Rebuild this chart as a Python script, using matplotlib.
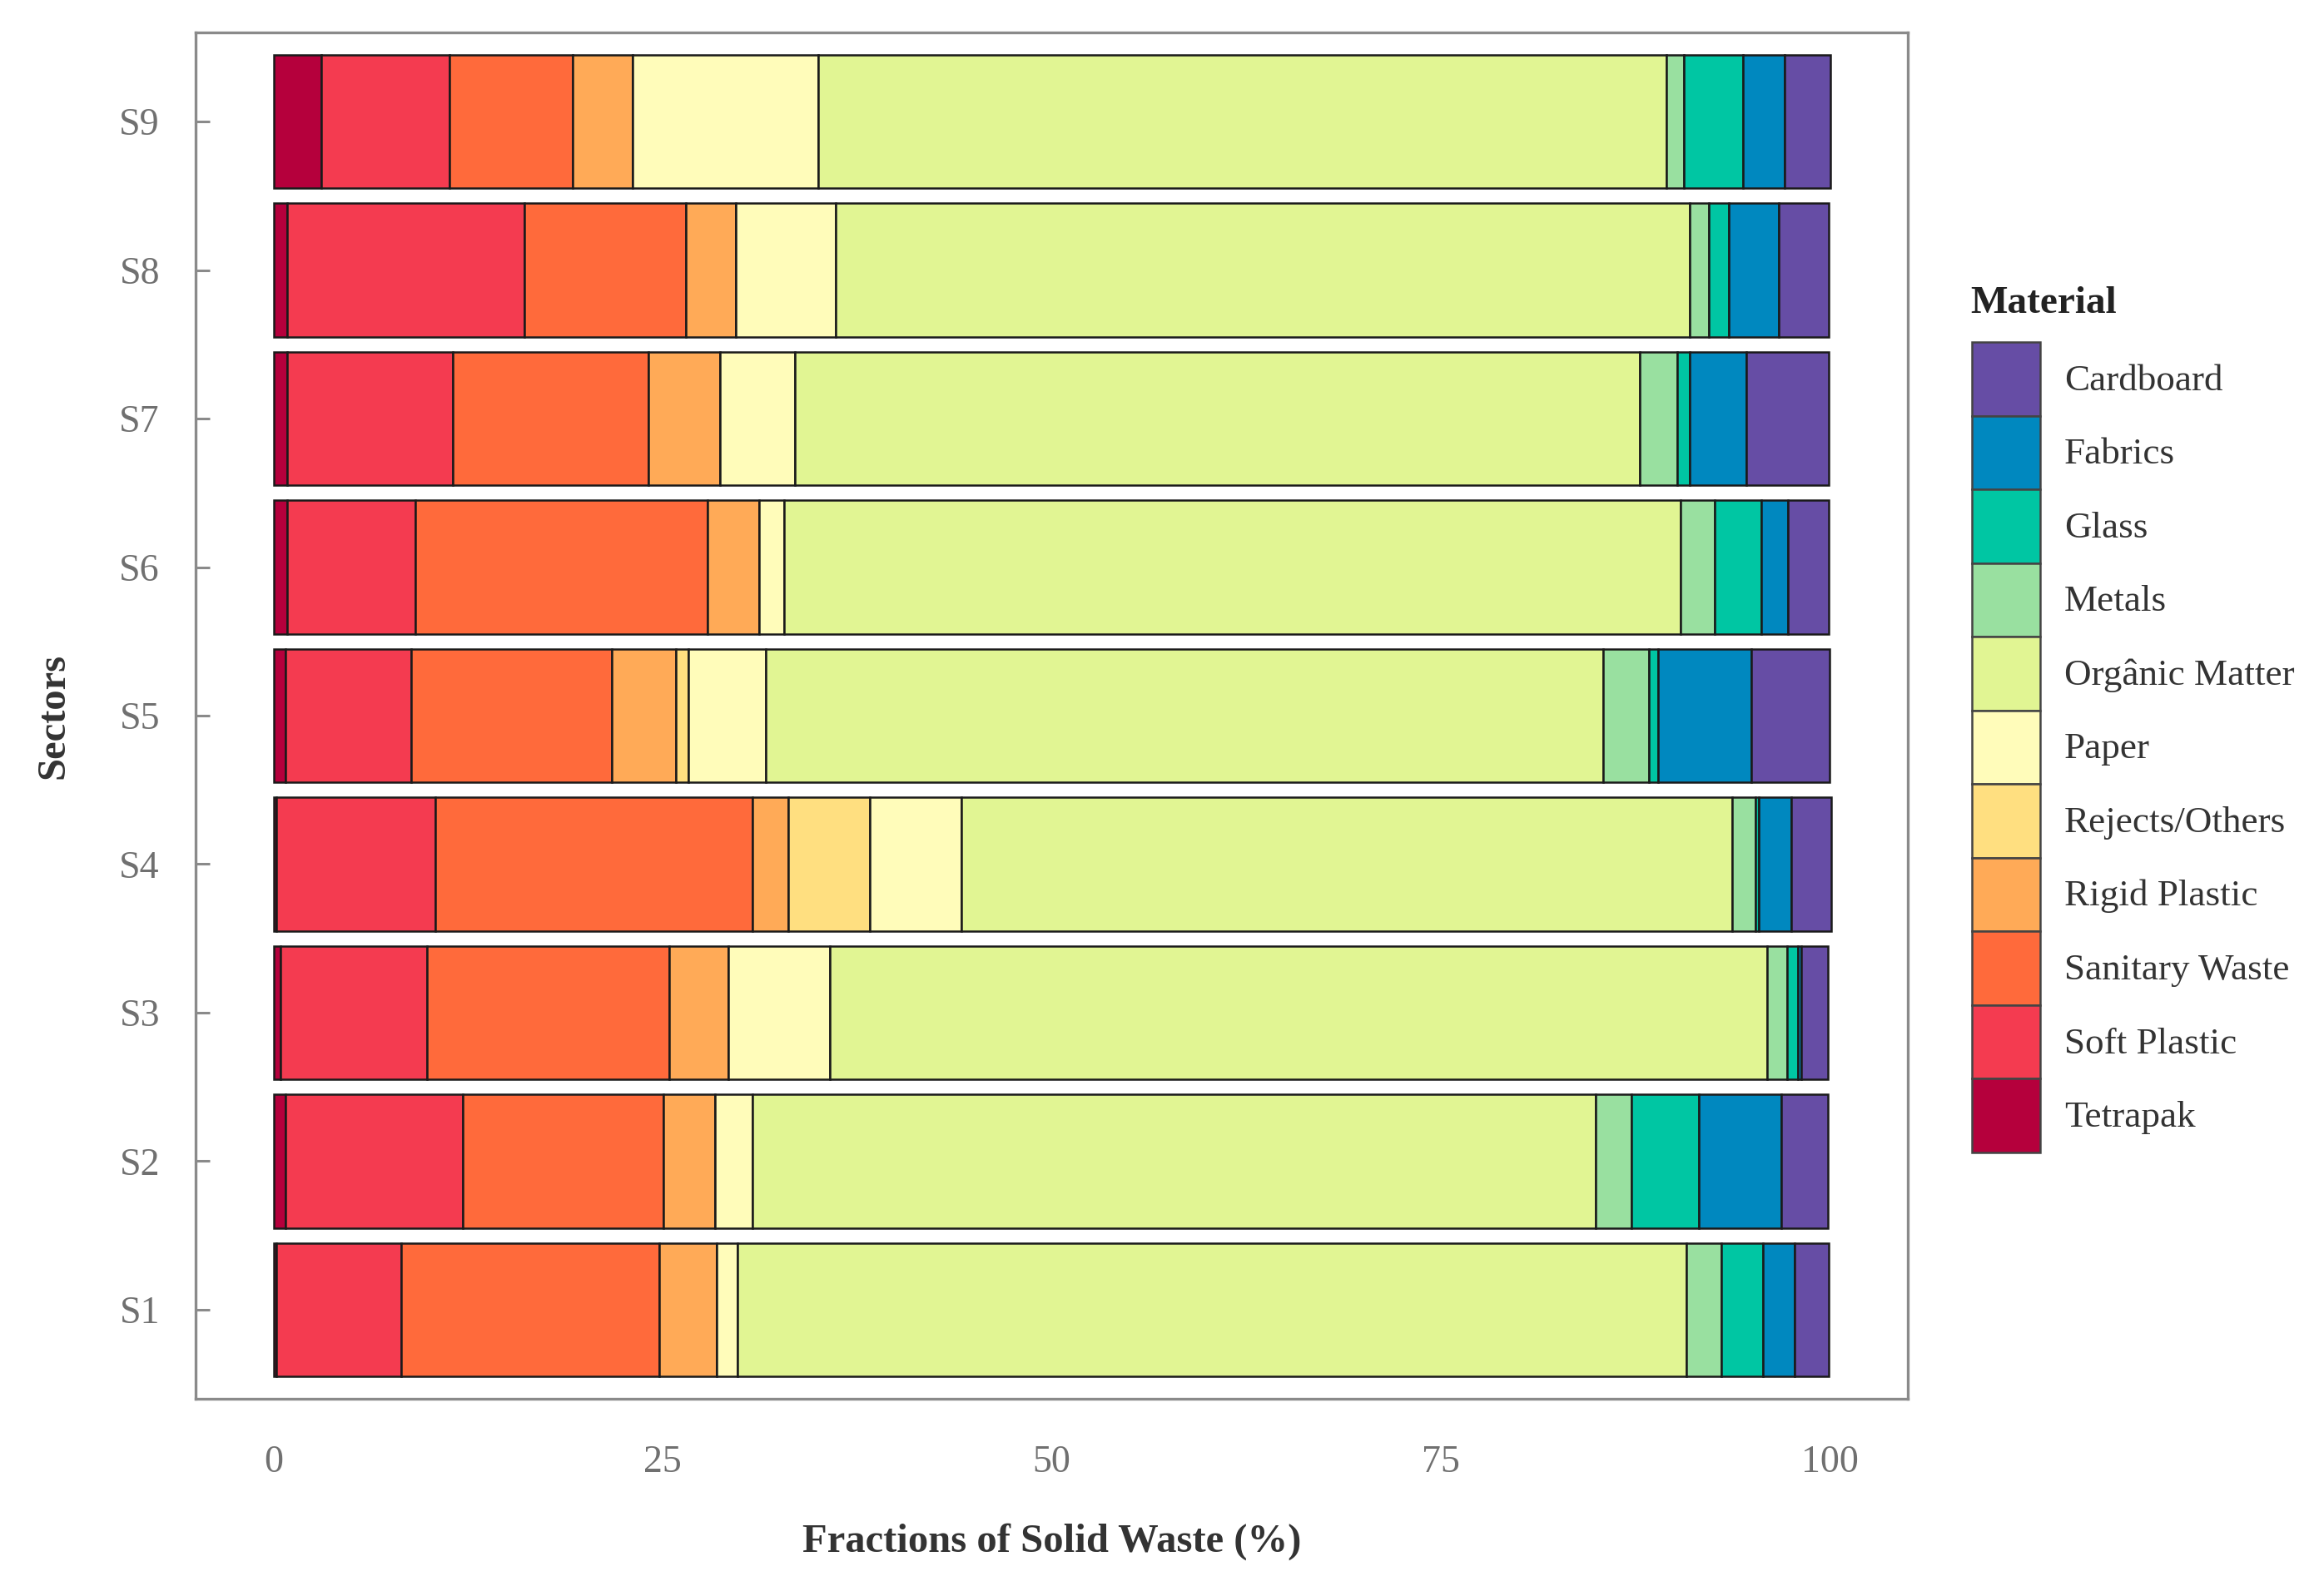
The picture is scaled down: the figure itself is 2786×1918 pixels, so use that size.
import numpy as np
import matplotlib
matplotlib.use("Agg")
import matplotlib.pyplot as plt
from matplotlib.patches import Patch

# ============================================================
# Dados (percentual de cada material por setor, S1..S9)
# ============================================================

setores = ["S1", "S2", "S3", "S4", "S5", "S6", "S7", "S8", "S9"]

tetrapak = [0.2, 0.75, 0.45, 0.2, 0.75, 0.9, 0.9, 0.9, 3.1]
soft_plastic = [8.0, 11.4, 9.4, 10.2, 8.1, 8.2, 10.6, 15.2, 8.2]
sanitary_waste = [16.6, 12.9, 15.6, 20.4, 12.9, 18.8, 12.6, 10.4, 7.9]
rigid_plastic = [3.7, 3.3, 3.8, 2.3, 4.1, 3.3, 4.6, 3.2, 3.9]
rejects_others = [0.0, 0.0, 0.0, 5.2, 0.8, 0.0, 0.0, 0.0, 0.0]
paper = [1.3, 2.4, 6.5, 5.9, 5.0, 1.6, 4.8, 6.4, 11.9]
organic_matter = [61.0, 54.2, 60.2, 49.5, 53.8, 57.6, 54.3, 54.9, 54.5]
metals = [2.2, 2.3, 1.3, 1.5, 2.9, 2.2, 2.4, 1.2, 1.1]
glass = [2.7, 4.3, 0.7, 0.2, 0.6, 3.0, 0.8, 1.3, 3.8]
fabrics = [2.0, 5.3, 0.2, 2.1, 6.0, 1.7, 3.6, 3.2, 2.7]
cardboard = [2.2, 3.0, 1.7, 2.6, 5.0, 2.6, 5.3, 3.2, 2.9]

materiais = [
    ("Tetrapak", tetrapak, "#B5003C"),
    ("Soft Plastic", soft_plastic, "#F43B50"),
    ("Sanitary Waste", sanitary_waste, "#FF6A3B"),
    ("Rigid Plastic", rigid_plastic, "#FFAA57"),
    ("Rejects/Others", rejects_others, "#FFDF80"),
    ("Paper", paper, "#FFFCBA"),
    ("Orgânic Matter", organic_matter, "#E1F593"),
    ("Metals", metals, "#99E0A0"),
    ("Glass", glass, "#00C6A3"),
    ("Fabrics", fabrics, "#0088BF"),
    ("Cardboard", cardboard, "#664DA5"),
]

ticks_x = [0, 25, 50, 75, 100]

# ============================================================
# Gráfico
# ============================================================

plt.rcParams["font.family"] = ["Liberation Serif", "DejaVu Serif"]

fig = plt.figure(figsize=(27.86, 19.18), dpi=100)
ax = fig.add_axes([0.08435, 0.12357, 0.8227 - 0.08435, 0.97967 - 0.12357])

y = np.arange(1, len(setores) + 1)
esquerda = np.zeros(len(setores))

for nome, valores, cor in materiais:
    valores = np.array(valores)
    ax.barh(
        y,
        valores,
        left=esquerda,
        height=0.9,
        color=cor,
        edgecolor="#1a1a1a",
        linewidth=1.8,
    )
    esquerda += valores

ax.set_xlim(-5, 105)
ax.set_ylim(0.4, 9.6)

ax.set_xticks(ticks_x)
ax.set_xticklabels([str(t) for t in ticks_x])
ax.set_yticks(y)
ax.set_yticklabels(setores)

ax.tick_params(axis="x", length=0, pad=40, labelsize=33, labelcolor="#707070")
ax.tick_params(axis="y", direction="in", length=12, width=2.2, color="#8a8a8a",
               pad=31, labelsize=33, labelcolor="#707070")

for lado in ax.spines.values():
    lado.set_color("#8a8a8a")
    lado.set_linewidth(2.4)

ax.set_xlabel("Fractions of Solid Waste (%)", fontsize=35, fontweight="bold",
              color="#333333")
ax.xaxis.set_label_coords(0.5, -0.091)
ax.set_ylabel("Sectors", fontsize=35, fontweight="bold", color="#333333")
ax.yaxis.set_label_coords(-0.072, 0.5)

# legenda (Cardboard no topo, Tetrapak embaixo)
handles = [
    Patch(facecolor=cor, edgecolor="#444444", linewidth=1.8, label=nome)
    for nome, valores, cor in reversed(materiais)
]

leg = ax.legend(
    handles=handles,
    loc="upper left",
    bbox_to_anchor=(2369 / 2786, 1 - 411 / 1918),
    bbox_transform=fig.transFigure,
    frameon=False,
    fontsize=32.5,
    handlelength=1.82,
    handleheight=2.64,
    handletextpad=0.64,
    labelspacing=0.0,
    borderpad=0.0,
    borderaxespad=0.0,
)
for texto in leg.get_texts():
    texto.set_color("#333333")

fig.text(2367 / 2786, 1 - 365 / 1918, "Material", fontsize=34,
         fontweight="bold", color="#222222", ha="left", va="center")

fig.savefig("out.png", dpi=100, facecolor="white")
